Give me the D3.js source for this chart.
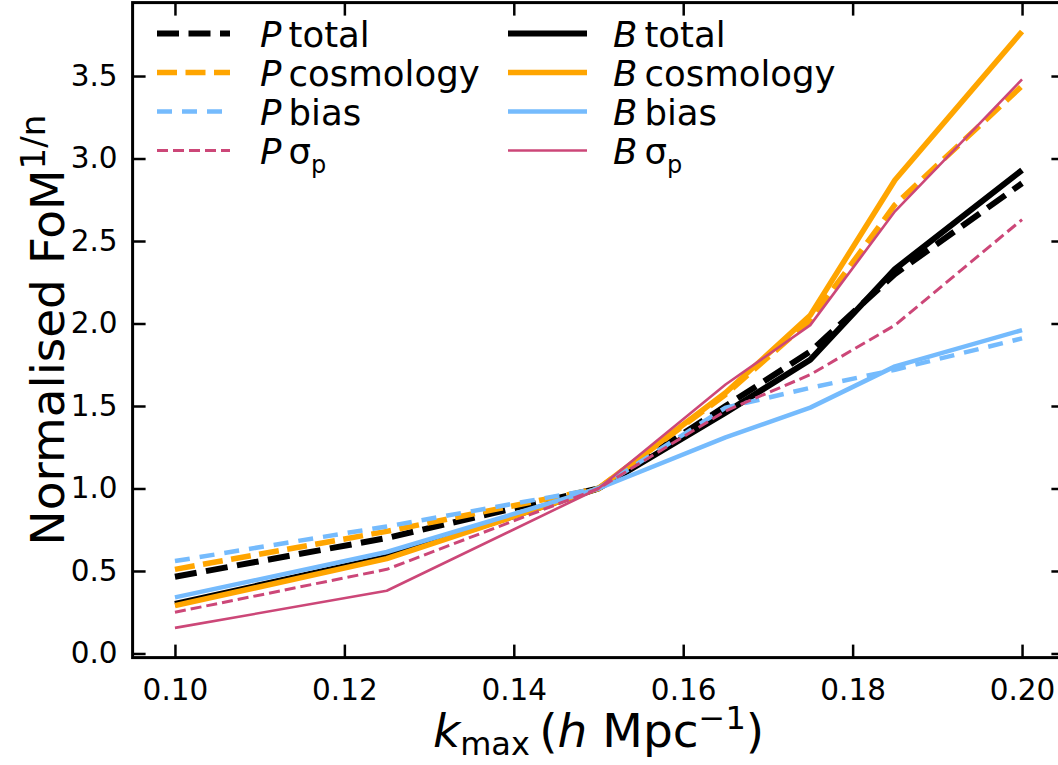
<!DOCTYPE html>
<html><head><meta charset="utf-8">
<script src="https://cdn.jsdelivr.net/npm/d3@7"></script>
<style>body{margin:0;background:#fff} svg{display:block} text{font-family:"DejaVu Sans",sans-serif;fill:#000}</style>
</head><body><svg id="c" width="1058" height="765"></svg>
<script>
// ---- data ----
const kmax = [0.10, 0.125, 0.15, 0.165, 0.175, 0.185, 0.20];
const pTotal = [0.465, 0.70, 1.0, 1.50, 1.83, 2.30, 2.85];
const pCosmology = [0.51, 0.74, 1.0, 1.57, 2.02, 2.72, 3.44];
const pBias = [0.56, 0.77, 1.0, 1.49, 1.61, 1.72, 1.91];
const pSigma = [0.25, 0.51, 1.0, 1.47, 1.69, 1.99, 2.63];
const bTotal = [0.30, 0.585, 1.0, 1.46, 1.78, 2.33, 2.93];
const bCosmology = [0.29, 0.575, 1.0, 1.58, 2.05, 2.87, 3.77];
const bBias = [0.34, 0.615, 1.0, 1.31, 1.49, 1.74, 1.96];
const bSigma = [0.155, 0.38, 1.0, 1.63, 1.99, 2.68, 3.48];
const xTickVals = [0.10, 0.12, 0.14, 0.16, 0.18, 0.20];
const yTickVals = [0.0, 0.5, 1.0, 1.5, 2.0, 2.5, 3.0, 3.5];

const C_ORANGE = "#FFA500", C_BLUE = "#75bbfd", C_RED = "#cc4778", C_BLACK = "#000";
const series = [
  {pre:"P", name:"total", sub:null, vals:pTotal, color:C_BLACK, w:6, dash:"22,9.5"},
  {pre:"B", name:"total", sub:null, vals:bTotal, color:C_BLACK, w:6, dash:null},
  {pre:"P", name:"cosmology", sub:null, vals:pCosmology, color:C_ORANGE, w:5.5, dash:"20,8.5"},
  {pre:"B", name:"cosmology", sub:null, vals:bCosmology, color:C_ORANGE, w:5.5, dash:null},
  {pre:"P", name:"bias", sub:null, vals:pBias, color:C_BLUE, w:4.5, dash:"15,10"},
  {pre:"B", name:"bias", sub:null, vals:bBias, color:C_BLUE, w:4.5, dash:null},
  {pre:"P", name:"σ", sub:"p", vals:pSigma, color:C_RED, w:3, dash:"11,5"},
  {pre:"B", name:"σ", sub:"p", vals:bSigma, color:C_RED, w:2.6, dash:null},
];

const svg = d3.select("#c");
const L = 132.6, R = 1064.4, T = 2.6, B = 657.6;
const x = d3.scaleLinear().domain([0.095, 0.205]).range([L, R]);
const y = d3.scaleLinear().domain([-0.025, 3.945]).range([B, T]);

// lines
const line = d3.line().x((d,i)=>x(kmax[i])).y(d=>y(d));
const plot = svg.append("g");
series.forEach(s => {
  plot.append("path").datum(s.vals)
    .attr("d", line).attr("fill","none")
    .attr("stroke", s.color).attr("stroke-width", s.w)
    .attr("stroke-dasharray", s.dash)
    .attr("stroke-linejoin","round");
});

// axes
const fmtX = d3.format(".2f"), fmtY = d3.format(".1f");
function styleAxis(g){
  g.select(".domain").remove();
  g.selectAll(".tick line").attr("stroke","#000").attr("stroke-width",2.5);
  g.selectAll(".tick text").attr("font-size",29.5).attr("font-family","DejaVu Sans");
}
svg.append("g").attr("transform",`translate(0,${B})`)
  .call(d3.axisBottom(x).tickValues(xTickVals).tickFormat(fmtX).tickSizeInner(-13).tickSizeOuter(0).tickPadding(21))
  .call(styleAxis);
svg.append("g").attr("transform",`translate(0,${T})`)
  .call(d3.axisTop(x).tickValues(xTickVals).tickFormat("").tickSizeInner(-13).tickSizeOuter(0))
  .call(styleAxis);
svg.append("g").attr("transform",`translate(${L},0)`)
  .call(d3.axisLeft(y).tickValues(yTickVals).tickFormat(fmtY).tickSizeInner(-13).tickSizeOuter(0).tickPadding(15))
  .call(styleAxis);
svg.append("g").attr("transform",`translate(${R},0)`)
  .call(d3.axisRight(y).tickValues(yTickVals).tickFormat("").tickSizeInner(-13).tickSizeOuter(0))
  .call(styleAxis);

svg.append("rect").attr("x",L).attr("y",T).attr("width",R-L).attr("height",B-T)
  .attr("fill","none").attr("stroke","#000").attr("stroke-width",3);

// legend
const legendOrder = [0,2,4,6,1,3,5,7];
const colX = [{h0:157,h1:230,t:260},{h0:508,h1:587,t:613}];
const rowBase = [47, 86, 125, 164];
legendOrder.forEach((si, k) => {
  const s = series[si];
  const col = colX[Math.floor(k/4)], base = rowBase[k%4];
  svg.append("line").attr("x1",col.h0).attr("x2",col.h1)
    .attr("y1",base-13.5).attr("y2",base-13.5)
    .attr("stroke",s.color).attr("stroke-width",s.w).attr("stroke-dasharray",s.dash);
  const t = svg.append("text").attr("x",col.t).attr("y",base).attr("font-size",35.5);
  t.append("tspan").attr("font-style","italic").text(s.pre);
  t.append("tspan").text("\u2009" + s.name);
  if (s.sub) t.append("tspan").attr("font-size",24).attr("dy",9).text(s.sub);
});

// axis labels
const xl = svg.append("text").attr("x",(L+R)/2).attr("y",747).attr("text-anchor","middle").attr("font-size",47);
xl.append("tspan").attr("font-style","italic").text("k");
xl.append("tspan").attr("font-size",32).attr("dy",8).text("max");
xl.append("tspan").attr("dy",-8).text("\u2009(");
xl.append("tspan").attr("font-style","italic").text("h");
xl.append("tspan").text(" Mpc");
xl.append("tspan").attr("font-size",32).attr("dy",-18).text("\u22121");
xl.append("tspan").attr("dy",18).text(")");

const yl = svg.append("text").attr("transform",`translate(64,${(T+B)/2}) rotate(-90)`)
  .attr("text-anchor","middle").attr("font-size",47);
yl.append("tspan").text("Normalised FoM");
yl.append("tspan").attr("font-size",34).attr("dy",-19).text("1/n");
</script></body></html>
